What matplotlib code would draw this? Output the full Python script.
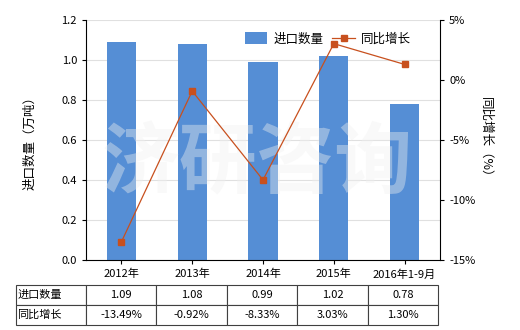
import numpy as np
import matplotlib
matplotlib.use('Agg')
import matplotlib.pyplot as plt

plt.rcParams['font.family'] = ['Noto Sans CJK SC', 'DejaVu Sans']
plt.rcParams['font.size'] = 8

# data
years = ['2012年', '2013年', '2014年', '2015年', '2016年1-9月']
qty = [1.09, 1.08, 0.99, 1.02, 0.78]
growth = [-13.49, -0.92, -8.33, 3.03, 1.30]
qty_labels = ['1.09', '1.08', '0.99', '1.02', '0.78']
growth_labels = ['-13.49%', '-0.92%', '-8.33%', '3.03%', '1.30%']

bar_color = '#558ED5'
line_color = '#C8501E'

fig = plt.figure(figsize=(5.2, 3.3), dpi=100)
ax = fig.add_axes([86 / 520, 70 / 330, 354 / 520, 240 / 330])
x = np.arange(len(years))

ax.bar(x, qty, width=0.41, color=bar_color, label='进口数量', zorder=2)
ax.set_xlim(-0.5, len(years) - 0.5)
ax.set_ylim(0, 1.2)
ax.set_yticks(np.arange(0, 1.21, 0.2))
ax.set_yticklabels([f'{v:.1f}' for v in np.arange(0, 1.21, 0.2)])
ax.grid(axis='y', color='#E0E0E0', linewidth=0.8, zorder=0)
ax.set_xticks(x)
ax.set_xticklabels(years)
ax.tick_params(axis='x', length=3)
ax.tick_params(axis='y', length=3)
for s in ['top', 'right']:
    ax.spines[s].set_visible(False)
ax.set_ylabel('进口数量（万吨）', labelpad=18, fontsize=9)

# watermark
ax.text(257 / 520, 1 - 165 / 330, '济研咨询', transform=fig.transFigure,
        fontsize=56, color='#F0F0F0', alpha=0.4, ha='center', va='center',
        fontweight='bold', zorder=3)

ax2 = ax.twinx()
ax2.plot(x, growth, color=line_color, linewidth=0.9, marker='s', markersize=4,
         label='同比增长', zorder=3)
ax2.set_ylim(-15, 5)
ax2.set_yticks([-15, -10, -5, 0, 5])
ax2.set_yticklabels(['-15%', '-10%', '-5%', '0%', '5%'])
ax2.tick_params(axis='y', length=3)
for s in ['top', 'left', 'bottom']:
    ax2.spines[s].set_visible(False)
ax2.set_ylabel('同比增长（%）', rotation=-90, labelpad=12, fontsize=9)

# legend
h1, l1 = ax.get_legend_handles_labels()
h2, l2 = ax2.get_legend_handles_labels()
ax2.legend(h1 + h2, l1 + l2, loc='upper right', ncol=2, frameon=False,
           bbox_to_anchor=(0.95, 0.995), handlelength=1.8, handleheight=1.1,
           columnspacing=0.7, handletextpad=0.5, fontsize=9)

# table below
rows = [['进口数量'] + qty_labels, ['同比增长'] + growth_labels]
tbl = ax.table(cellText=rows, cellLoc='center',
               bbox=[-70 / 354, -65 / 240, 422 / 354, 40 / 240],
               colWidths=[70] + [70.4] * 5)
tbl.auto_set_font_size(False)
tbl.set_fontsize(8)
for (r, c), cell in tbl.get_celld().items():
    cell.set_edgecolor('#404040')
    cell.set_linewidth(0.8)
    if c == 0:
        cell.set_text_props(ha='left')
        cell.PAD = 0.02

fig.savefig('out.png', dpi=100)
